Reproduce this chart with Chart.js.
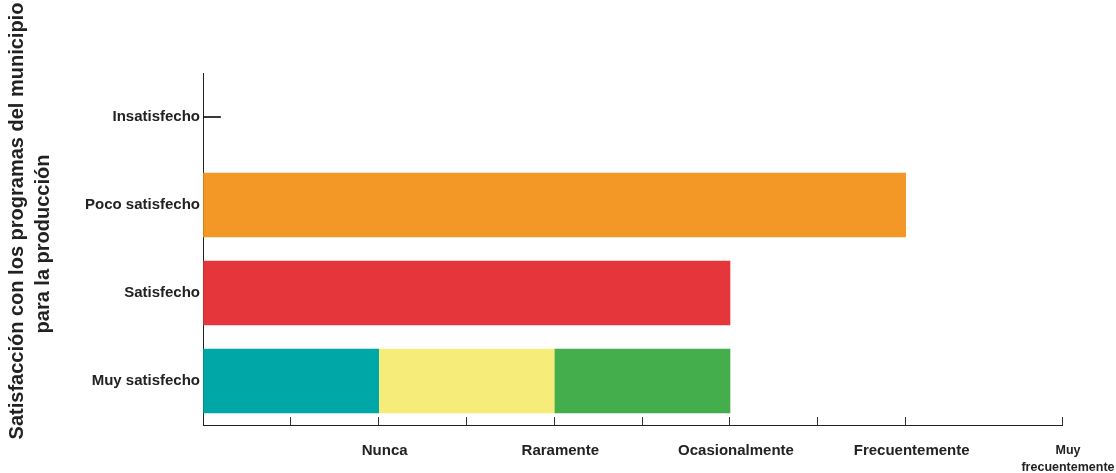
<!DOCTYPE html>
<html>
<head>
<meta charset="utf-8">
<script src="https://cdn.jsdelivr.net/npm/chart.js@4.4.1/dist/chart.umd.min.js"></script>
<style>
  html, body { margin: 0; padding: 0; background: #fff; }
</style>
</head>
<body>
<canvas id="chart" width="1116" height="473"></canvas>
<script>
const categories = ["Insatisfecho", "Poco satisfecho", "Satisfecho", "Muy satisfecho"];
// stacked pieces of each bar
const firstSegment = [null, 4, 3, 1];
const secondSegment = [null, null, null, 1];
const thirdSegment = [null, null, null, 1];
const markerValues = [0.1, null, null, null];
const firstColors = ["#000000", "#F39827", "#E5363C", "#00A7A7"];

const xTickValues = [0, 0.5, 1, 1.5, 2, 2.5, 3, 3.5, 4, 4.89];
const xTickLabels = ["", "", "Nunca", "", "Raramente", "", "Ocasionalmente", "", "Frecuentemente", ["Muy", "frecuentemente"]];
const yTitleLines = ["Satisfacción con los programas del municipio", "para la producción"];

const FONT = "'Liberation Sans', Arial, sans-serif";

// rotated two-line axis title, placed like the original
const yTitlePlugin = {
  id: "yTitle",
  afterDraw(chart) {
    const ctx = chart.ctx;
    const spots = [[17, 221], [43, 244]];
    ctx.save();
    ctx.font = "bold 20px " + FONT;
    ctx.fillStyle = "#222";
    ctx.textAlign = "center";
    ctx.textBaseline = "middle";
    yTitleLines.forEach((line, i) => {
      ctx.save();
      ctx.translate(spots[i][0], spots[i][1]);
      ctx.rotate(-Math.PI / 2);
      ctx.fillText(line, 0, 0);
      ctx.restore();
    });
    ctx.restore();
  },
};

new Chart(document.getElementById("chart"), {
  type: "bar",
  data: {
    labels: categories,
    datasets: [
      { data: firstSegment, backgroundColor: firstColors, barThickness: 64 },
      { data: secondSegment, backgroundColor: "#F5EC7A", barThickness: 64 },
      { data: thirdSegment, backgroundColor: "#43AE4B", barThickness: 64 },
      { data: markerValues, backgroundColor: "#111", barThickness: 1 },
    ],
  },
  options: {
    indexAxis: "y",
    responsive: false,
    animation: false,
    layout: { padding: { top: 73, right: 54, left: 0, bottom: 0 } },
    plugins: { legend: { display: false }, tooltip: { enabled: false } },
    scales: {
      x: {
        type: "linear",
        stacked: true,
        min: 0,
        max: 4.89,
        afterBuildTicks: (scale) => {
          scale.ticks = xTickValues.map((v) => ({ value: v }));
        },
        afterFit: (scale) => {
          scale.height = 48;
          scale.paddingLeft = 0;
          scale.paddingRight = 0;
        },
        grid: { drawOnChartArea: false, tickLength: -8, color: "#333" },
        border: { color: "#222", width: 1 },
        ticks: {
          autoSkip: false,
          maxRotation: 0,
          padding: 25,
          labelOffset: 6,
          color: "#222",
          callback: (value, i) => xTickLabels[i],
          font: (c) => (c.index === xTickValues.length - 1
            ? { family: FONT, size: 12.5, weight: "bold", lineHeight: 1.35 }
            : { family: FONT, size: 15, weight: "bold" }),
        },
      },
      y: {
        stacked: true,
        afterFit: (scale) => { scale.width = 203; },
        grid: { display: false, drawTicks: false },
        border: { color: "#222", width: 1 },
        ticks: { padding: 3, color: "#222", font: { family: FONT, size: 15, weight: "bold" } },
      },
    },
  },
  plugins: [yTitlePlugin],
});
</script>
</body>
</html>
